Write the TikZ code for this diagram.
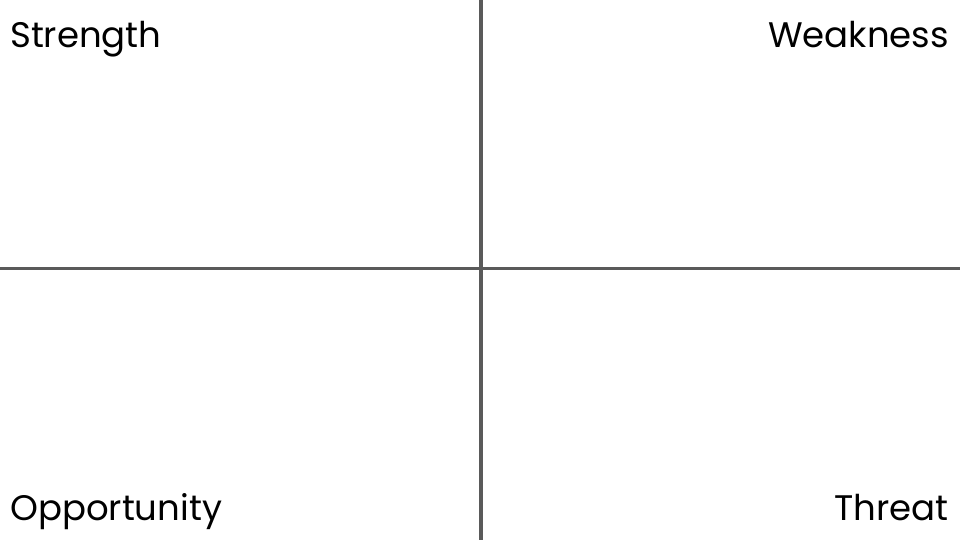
\documentclass[tikz,border=0pt]{standalone}
\usepackage{fontspec}
\setmainfont{Poppins}
\definecolor{axisgray}{HTML}{5A5A5A}
\tikzset{
  axisline/.style={draw=axisgray, line width=3.5pt},
  label/.style={font=\fontsize{35.5}{42}\selectfont, text=black, inner sep=0pt}
}
\begin{document}
\begin{tikzpicture}[x=1pt,y=-1pt]
\useasboundingbox (0,0) rectangle (960,540);
\coordinate (vtop) at (481,0);
\coordinate (vbot) at (481,540);
\coordinate (hleft) at (0,268.5);
\coordinate (hright) at (960,268.5);
\draw[axisline] (vtop) -- (vbot);
\draw[axisline] (hleft) -- (hright);
\node[label, anchor=base west] (s) at (10,48) {Strength};
\node[label, anchor=base east] (w) at (949,48) {Weakness};
\node[label, anchor=base west] (o) at (10,520) {Opportunity};
\node[label, anchor=base east] (t) at (949,520) {Threat};
\end{tikzpicture}
\end{document}
